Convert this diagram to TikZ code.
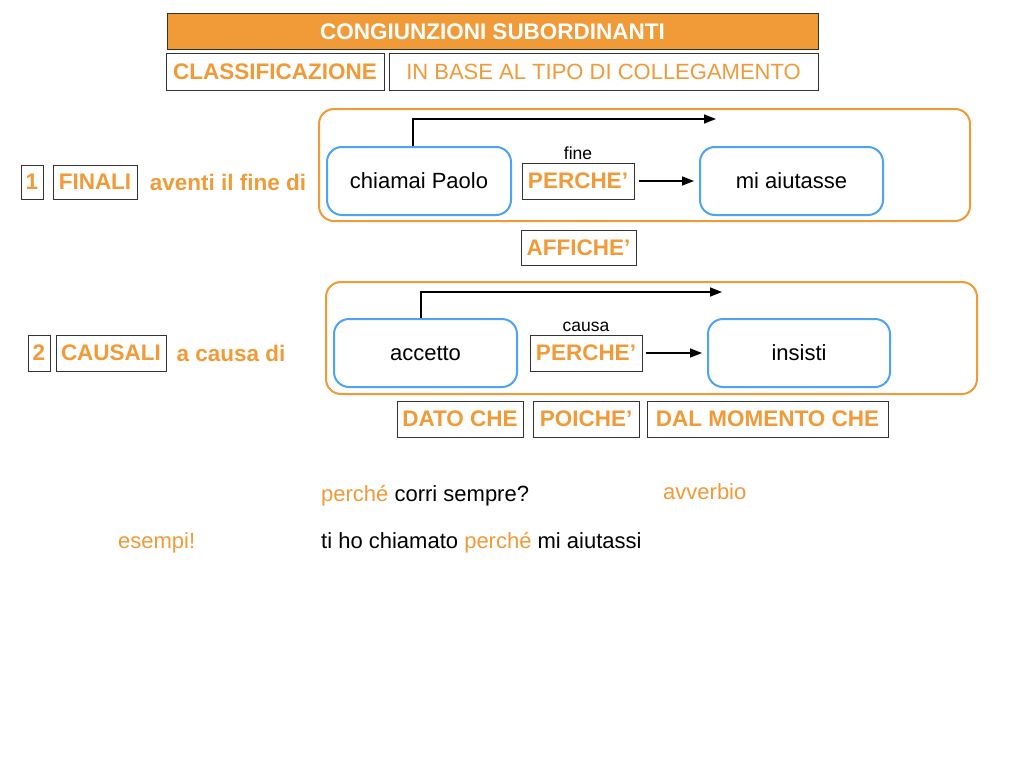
\documentclass[tikz,border=0pt]{standalone}
\usepackage{fontspec}
\setmainfont{Liberation Sans}
\usetikzlibrary{arrows.meta,calc}
\definecolor{org}{HTML}{F09A38}
\definecolor{blu}{HTML}{4DA3F5}
\definecolor{edge}{HTML}{333333}
\tikzset{
  txt/.style={font=\fontsize{22}{26}\selectfont},
  btxt/.style={font=\fontsize{22.5}{26}\bfseries\selectfont},
  smalltxt/.style={font=\fontsize{17.5}{20}\selectfont},
  labbox/.style={draw=edge, line width=1pt, inner sep=0pt, text=org, btxt},
  outerbox/.style={draw=org, line width=2pt, rounded corners=15pt, inner sep=0pt},
  clausebox/.style={draw=blu, line width=2pt, rounded corners=15pt, inner sep=0pt, fill=white, txt, minimum width=183pt, minimum height=68pt},
  arr/.style={-{Triangle[length=12pt,width=9pt]}, line width=1.5pt}
}
\begin{document}
\begin{tikzpicture}[x=1pt,y=-1pt]
\useasboundingbox[fill=white] (0,0) rectangle (1024,768);
% header
\node[draw=edge, fill=org, line width=1pt, inner sep=0pt, minimum width=651pt, minimum height=36pt, text=white, btxt] (title) at (492.5,32) {CONGIUNZIONI SUBORDINANTI};
\node[labbox, minimum width=218pt, minimum height=36pt] (classif) at (275,72) {CLASSIFICAZIONE};
\node[draw=edge, line width=1pt, inner sep=0pt, minimum width=429pt, minimum height=36pt, text=org, txt] (inbase) at (603.5,72) {IN BASE AL TIPO DI COLLEGAMENTO};
% row 1
\node[labbox, minimum width=22pt, minimum height=34pt] (n1) at (32,182) {1};
\node[labbox, minimum width=84pt, minimum height=34pt] (finali) at (95,182) {FINALI};
\node[btxt, text=org, inner sep=0pt] (aventi) at (228,182) {aventi il fine di};
\node[outerbox, minimum width=651pt, minimum height=112pt] (outer1) at (644.5,165) {};
\node[clausebox, minimum width=184pt] (chiamai) at (419,181) {chiamai Paolo};
\node[labbox, minimum width=112pt, minimum height=36pt] (perche1) at (578,181) {PERCHE’};
\node[smalltxt, inner sep=0pt] (fine) at (578,153) {fine};
\node[clausebox] (aiutasse) at (791.5,181) {mi aiutasse};
\node[labbox, minimum width=115pt, minimum height=35pt] (affiche) at (578.5,247.5) {AFFICHE’};
\coordinate (t1) at (716,119);
\draw[arr] ($(chiamai.north)+(-6,0)$) |- (t1);
\draw[arr, shorten <=4pt, shorten >=5pt] (perche1.east) -- (aiutasse.west);
% row 2
\node[labbox, minimum width=22pt, minimum height=36pt] (n2) at (39,353) {2};
\node[labbox, minimum width=110pt, minimum height=36pt] (causali) at (111,353) {CAUSALI};
\node[btxt, text=org, inner sep=0pt] (acausa) at (231,353) {a causa di};
\node[outerbox, minimum width=651pt, minimum height=112pt] (outer2) at (651.5,338) {};
\node[clausebox] (accetto) at (425.5,353) {accetto};
\node[labbox, minimum width=112pt, minimum height=36pt] (perche2) at (586,353) {PERCHE’};
\node[smalltxt, inner sep=0pt] (causa) at (586,327) {causa};
\node[clausebox, minimum width=182pt] (insisti) at (799,353) {insisti};
\coordinate (t2) at (722,292);
\draw[arr] ($(accetto.north)+(-4.5,0)$) |- (t2);
\draw[arr, shorten <=3pt, shorten >=5pt] (perche2.east) -- (insisti.west);
\node[labbox, minimum width=126pt, minimum height=36pt] (dato) at (460,419) {DATO CHE};
\node[labbox, minimum width=106pt, minimum height=36pt] (poiche) at (586,419) {POICHE’};
\node[labbox, minimum width=241pt, minimum height=36pt] (dalmom) at (767.5,419) {DAL MOMENTO CHE};
% examples
\node[txt, anchor=base west, inner sep=0pt] (ex1) at (321,501) {\textcolor{org}{perché} corri sempre?};
\node[txt, anchor=base west, inner sep=0pt, text=org] (avv) at (663,499) {avverbio};
\node[txt, anchor=base west, inner sep=0pt, text=org] (esempi) at (118,548) {esempi!};
\node[txt, anchor=base west, inner sep=0pt] (ex2) at (321,548) {ti ho chiamato \textcolor{org}{perché} mi aiutassi};
\end{tikzpicture}
\end{document}
